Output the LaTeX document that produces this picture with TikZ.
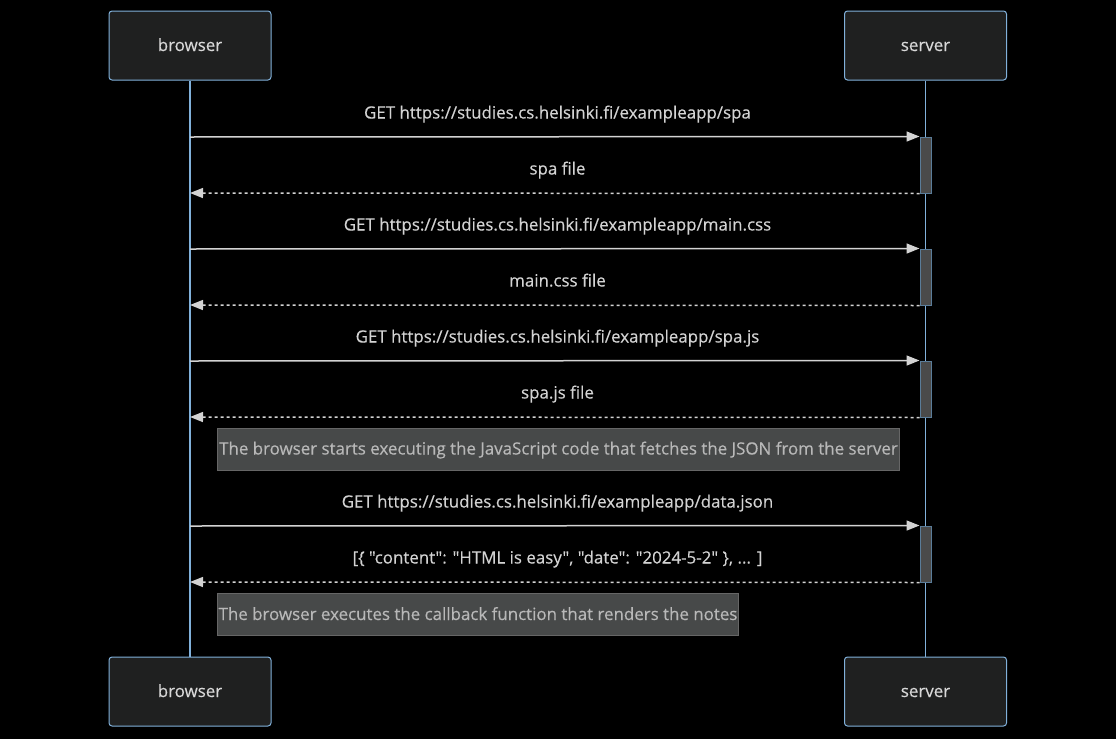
\documentclass[tikz,border=0pt]{standalone}
\usepackage{fontspec}
\setmainfont{Open Sans}[Ligatures=TeXOff, FakeBold=0.3]
\usetikzlibrary{arrows.meta,positioning}
\definecolor{actorfill}{HTML}{1F2020}
\definecolor{actorline}{HTML}{81B1DB}
\definecolor{actortext}{HTML}{D8D8D8}
\definecolor{msgline}{HTML}{D3D3D3}
\definecolor{notefill}{HTML}{474949}
\definecolor{noteline}{HTML}{666666}
\definecolor{notetext}{HTML}{B8B8B8}
\definecolor{actbox}{HTML}{4A4A4A}
\newcommand{\seqfont}{\fontsize{16.9}{20}\selectfont}

\begin{document}
\begin{tikzpicture}[x=1pt, y=-1pt,
    actor/.style={rectangle, rounded corners=3pt, draw=actorline, fill=actorfill, line width=1pt, minimum width=162pt, minimum height=69pt, text=actortext, font=\seqfont, text height=14pt, text depth=3pt},
    life/.style={draw=actorline, line width=1.5pt},
    actv/.style={rectangle, draw=actorline!70!black, fill=actbox, line width=1pt, minimum width=11pt, minimum height=56pt, inner sep=0pt},
    lbl/.style={text=msgline, font=\seqfont, text height=14pt, text depth=3pt},
    note/.style={rectangle, draw=noteline, fill=notefill, line width=1pt, text=notetext, font=\seqfont, inner sep=0pt, minimum height=42pt, anchor=west, text height=14pt, text depth=3pt},
    msg/.style={draw=msgline, line width=1.5pt, -{Triangle[length=13pt, width=10pt]}},
    reply/.style={msg, dash pattern=on 3pt off 3pt},
]
    \fill[black] (0,0) rectangle (1116,739);
    \useasboundingbox (0,0) rectangle (1116,739);

    \node[actor] (btop) at (190,45.5) {browser};
    \node[actor] (stop) at (925.5,45.5) {server};
    \node[actor] (bbot) at (190,691.5) {browser};
    \node[actor] (sbot) at (925.5,691.5) {server};

    \draw[life] (btop) -- (bbot);
    \draw[life] (stop) -- (sbot);

    \node[actv] (a1) at (925.5,165) {};
    \node[actv] (a2) at (925.5,277) {};
    \node[actv] (a3) at (925.5,389) {};
    \node[actv] (a4) at (925.5,554) {};

    \coordinate (b1) at (190,137);
    \coordinate (b2) at (190,193);
    \coordinate (b3) at (190,249);
    \coordinate (b4) at (190,305);
    \coordinate (b5) at (190,361);
    \coordinate (b6) at (190,417);
    \coordinate (b7) at (190,526);
    \coordinate (b8) at (190,582);

    \node[lbl] (m1) at (557.5,113) {GET https://studies.cs.helsinki.fi/exampleapp/spa};
    \node[lbl] (m2) at (557.5,169) {spa file};
    \node[lbl] (m3) at (557.5,225) {GET https://studies.cs.helsinki.fi/exampleapp/main.css};
    \node[lbl] (m4) at (557.5,281) {main.css file};
    \node[lbl] (m5) at (557.5,337) {GET https://studies.cs.helsinki.fi/exampleapp/spa.js};
    \node[lbl] (m6) at (557.5,393) {spa.js file};
    \node[lbl] (m7) at (557.5,502) {GET https://studies.cs.helsinki.fi/exampleapp/data.json};
    \node[lbl] (m8) at (557.5,558) {[\{ "content": "HTML is easy", "date": "2024-5-2" \}, ... ]};

    \draw[msg] (b1) -- (a1.north west);
    \draw[reply] (a1.south west) -- (b2);
    \draw[msg] (b3) -- (a2.north west);
    \draw[reply] (a2.south west) -- (b4);
    \draw[msg] (b5) -- (a3.north west);
    \draw[reply] (a3.south west) -- (b6);
    \draw[msg] (b7) -- (a4.north west);
    \draw[reply] (a4.south west) -- (b8);

    \node[note, minimum width=682pt] (n1) at (217,449) {The browser starts executing the JavaScript code that fetches the JSON from the server};
    \node[note, minimum width=521pt] (n2) at (217,614.5) {The browser executes the callback function that renders the notes};
\end{tikzpicture}
\end{document}
